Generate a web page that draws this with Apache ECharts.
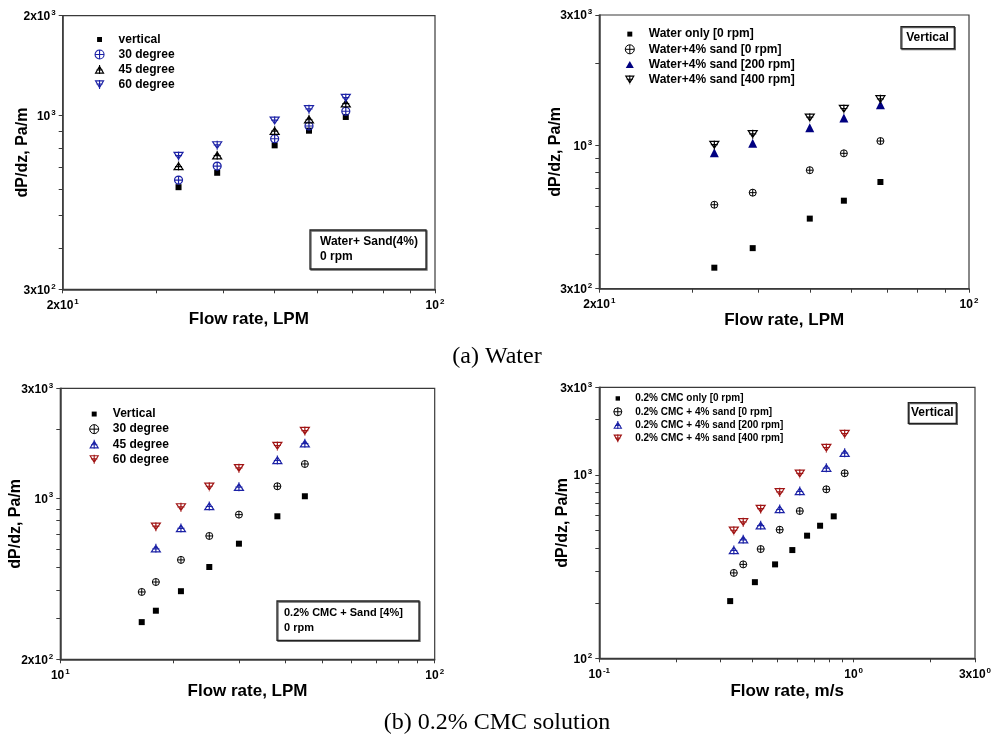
<!DOCTYPE html>
<html>
<head>
<meta charset="utf-8">
<script src="https://cdn.jsdelivr.net/npm/echarts@6/dist/echarts.min.js"></script>
<style>
html,body{margin:0;padding:0;background:#fff;}
#chart{width:994px;height:744px;}
</style>
</head>
<body>
<div id="chart"></div>
<script>
// ---------- Panel 1: Water + sand, inclination ----------
const p1X = [33, 39, 50, 58, 68];
const p1Vertical = [609, 673, 814, 901, 991];
const p1Deg30 = [640, 705, 852, 931, 1031];
const p1Deg45 = [705, 760, 901, 975, 1090];
const p1Deg60 = [756, 814, 966, 1045, 1130];
const p1XLabels = [20, 100];
const p1YLabels = [300, 1000, 2000];
const p1XTicks = [20, 30, 40, 50, 60, 70, 80, 90, 100];
const p1YTicks = [300, 400, 500, 600, 700, 800, 900, 1000, 2000];

// ---------- Panel 2: Water, vertical, rotation ----------
const p2X = [33, 39, 50, 58, 68];
const p2WaterOnly = [358, 422, 541, 629, 736];
const p2Sand0 = [608, 673, 813, 937, 1039];
const p2Sand200 = [942, 1019, 1163, 1261, 1410];
const p2Sand400 = [1005, 1100, 1265, 1361, 1476];
const p2XLabels = [20, 100];
const p2YLabels = [300, 1000, 3000];
const p2XTicks = [20, 30, 40, 50, 60, 70, 80, 90, 100];
const p2YTicks = [300, 400, 500, 600, 700, 800, 900, 1000, 2000, 3000];

// ---------- Panel 3: CMC + sand, inclination ----------
const p3X = [16.5, 18, 21, 25, 30, 38, 45];
const p3XInc = [18, 21, 25, 30, 38, 45];
const p3Vertical = [290, 325, 395, 503, 635, 835, 1020];
const p3Deg30 = [392, 433, 540, 686, 849, 1127, 1408];
const p3Deg45 = [606, 743, 925, 1122, 1465, 1732];
const p3Deg60 = [753, 913, 1122, 1349, 1686, 1958];
const p3XLabels = [10, 100];
const p3YLabels = [200, 1000, 3000];
const p3XTicks = [10, 20, 30, 40, 50, 60, 70, 80, 90, 100];
const p3YTicks = [200, 300, 400, 500, 600, 700, 800, 900, 1000, 2000, 3000];

// ---------- Panel 4: CMC, vertical, rotation ----------
const p4XOnly = [0.327, 0.409, 0.491, 0.574, 0.656, 0.738, 0.835];
const p4CmcOnly = [205, 260, 325, 389, 466, 528, 594];
const p4X = [0.338, 0.368, 0.431, 0.512, 0.614, 0.781, 0.922];
const p4Sand0 = [292, 325, 394, 502, 635, 834, 1020];
const p4Sand200 = [389, 445, 531, 651, 816, 1094, 1320];
const p4Sand400 = [496, 551, 651, 803, 1014, 1401, 1670];
const p4XLabels = [0.1, 1, 3];
const p4YLabels = [100, 1000, 3000];
const p4XTicks = [0.1, 0.2, 0.3, 0.4, 0.5, 0.6, 0.7, 0.8, 0.9, 1, 2, 3];
const p4YTicks = [100, 200, 300, 400, 500, 600, 700, 800, 900, 1000, 2000, 3000];

const names = {
  a1: 'vertical', a2: '30 degree', a3: '45 degree', a4: '60 degree',
  b1: 'Water only [0 rpm]', b2: 'Water+4% sand [0 rpm]', b3: 'Water+4% sand [200 rpm]', b4: 'Water+4% sand [400 rpm]',
  c1: 'Vertical', c2: '30 degree', c3: '45 degree', c4: '60 degree',
  d1: '0.2% CMC only [0 rpm]', d2: '0.2% CMC + 4% sand [0 rpm]', d3: '0.2% CMC + 4% sand [200 rpm]', d4: '0.2% CMC + 4% sand [400 rpm]'
};

const FONT = 'Liberation Sans, Arial, sans-serif';
const AX = '#3a3a3a';
const BLUE = '#1c22a6';
const NAVY = '#000080';
const RED = '#a01414';
const NONE = 'rgba(0,0,0,0)';

const CIRC = 'path://M10,0 A10,10 0 1 1 10,20 A10,10 0 1 1 10,0 Z M0,10 L20,10 M10,0 L10,20';
const UPT = 'path://M10,3 L19,18 L1,18 Z M10,0 L10,20 M3,11 L17,11';
const DNT = 'path://M1,2 L19,2 L10,17 Z M10,0 L10,20 M3,9 L17,9';
const SQ_ICON = 'path://M0,0 L0,0 M4.5,4.5 L15.5,4.5 L15.5,15.5 L4.5,15.5 Z M20,20 L20,20';
const TRI_ICON = 'path://M0,0 L0,0 M10,2 L19,18 L1,18 Z M20,20 L20,20';

function zip(xs, ys) { return xs.map((x, i) => [x, ys[i]]); }

function fmt(v) {
  const e = Math.floor(Math.log10(v) + 1e-9);
  const m = Math.round(v / Math.pow(10, e));
  return (m === 1 ? '{b|10}' : '{b|' + m + 'x10}') + '{s|' + e + '}';
}
const rich = {
  b: { fontSize: 12, fontWeight: 'bold', fontFamily: FONT, color: '#000', verticalAlign: 'bottom' },
  s: { fontSize: 8, fontWeight: 'bold', fontFamily: FONT, color: '#000', verticalAlign: 'bottom', padding: [0, 0, 6, 1] }
};

function xAxis(idx, min, max, labels, ticks, name, gap) {
  return {
    type: 'log', logBase: 10, gridIndex: idx, min: min, max: max,
    name: name, nameLocation: 'middle', nameGap: gap, nameMoveOverlap: false,
    nameTextStyle: { fontSize: 17, fontWeight: 'bold', fontFamily: FONT, color: '#000' },
    axisLine: { show: true, lineStyle: { color: AX, width: 1.5 } },
    axisTick: { show: true, inside: false, length: 4, customValues: ticks, lineStyle: { color: AX, width: 1 } },
    axisLabel: { show: true, margin: 8, customValues: labels, formatter: fmt, rich: rich, showMinLabel: true, showMaxLabel: true },
    splitLine: { show: false }, minorTick: { show: false }
  };
}
function yAxis(idx, min, max, labels, ticks, gap) {
  return {
    type: 'log', logBase: 10, gridIndex: idx, min: min, max: max,
    name: 'dP/dz, Pa/m', nameLocation: 'middle', nameGap: gap, nameRotate: 90, nameMoveOverlap: false,
    nameTextStyle: { fontSize: 16, fontWeight: 'bold', fontFamily: FONT, color: '#000' },
    axisLine: { show: true, lineStyle: { color: AX, width: 1.5 } },
    axisTick: { show: true, inside: false, length: 4, customValues: ticks, lineStyle: { color: AX, width: 1 } },
    axisLabel: { show: true, margin: 7, customValues: labels, formatter: fmt, rich: rich, showMinLabel: true, showMaxLabel: true },
    splitLine: { show: false }, minorTick: { show: false }
  };
}

function ser(id, idx, data, symbol, size, fill, stroke, bw) {
  return {
    name: id, type: 'scatter', xAxisIndex: idx, yAxisIndex: idx, data: data,
    symbol: symbol, symbolSize: size,
    itemStyle: { color: fill, borderColor: stroke, borderWidth: bw, opacity: 1 },
    emphasis: { disabled: true }, z: 3
  };
}

function li(name, icon, fill, stroke, bw) {
  return { name: name, icon: icon, itemStyle: { color: fill, borderColor: stroke, borderWidth: bw } };
}

function legend(items, left, top, w, fs, lh, pad) {
  return {
    data: items, orient: 'vertical', left: left, top: top, itemWidth: w, itemHeight: w,
    itemGap: 0, selectedMode: false, padding: 0,
    formatter: n => names[n],
    textStyle: { fontSize: fs, fontWeight: 'bold', fontFamily: FONT, color: '#000', lineHeight: lh, padding: [0, 0, 0, pad] }
  };
}

function box(x, y, w, h, text, fs, tx, ty, align) {
  return {
    type: 'group', children: [
      { type: 'rect', shape: { x: x, y: y, width: w, height: h },
        style: { fill: '#fff', stroke: '#222', lineWidth: 1.3, shadowColor: '#666', shadowOffsetX: 1, shadowOffsetY: 1, shadowBlur: 0 } },
      { type: 'text', x: tx, y: ty,
        style: { text: text, fontSize: fs, fontWeight: 'bold', fontFamily: FONT, fill: '#000', lineHeight: 15,
                 align: align, verticalAlign: 'middle' } }
    ]
  };
}

const gridStyle = { show: true, borderColor: AX, borderWidth: 1.2, backgroundColor: 'transparent', containLabel: false, outerBoundsMode: 'none' };

const option = {
  animation: false,
  backgroundColor: '#fff',
  grid: [
    Object.assign({ left: 62.7, top: 15.7, width: 372.3, height: 273.6 }, gridStyle),
    Object.assign({ left: 599.3, top: 15, width: 369.7, height: 273.7 }, gridStyle),
    Object.assign({ left: 60.3, top: 388.3, width: 374.4, height: 271 }, gridStyle),
    Object.assign({ left: 599.3, top: 387.3, width: 375.7, height: 271 }, gridStyle)
  ],
  xAxis: [
    xAxis(0, 20, 100, p1XLabels, p1XTicks, 'Flow rate, LPM', 22),
    xAxis(1, 20, 100, p2XLabels, p2XTicks, 'Flow rate, LPM', 23),
    xAxis(2, 10, 100, p3XLabels, p3XTicks, 'Flow rate, LPM', 24),
    xAxis(3, 0.1, 3, p4XLabels, p4XTicks, 'Flow rate, m/s', 25)
  ],
  yAxis: [
    yAxis(0, 300, 2000, p1YLabels, p1YTicks, 32),
    yAxis(1, 300, 3000, p2YLabels, p2YTicks, 36),
    yAxis(2, 200, 3000, p3YLabels, p3YTicks, 37),
    yAxis(3, 100, 3000, p4YLabels, p4YTicks, 29)
  ],
  legend: [
    legend([li('a1', SQ_ICON, '#000', '#000', 0), li('a2', CIRC, NONE, BLUE, 1.1), li('a3', UPT, NONE, '#000', 1.1), li('a4', DNT, NONE, BLUE, 1.1)],
           94.5, 32, 9, 12, 15, 9.5),
    legend([li('b1', SQ_ICON, '#000', '#000', 0), li('b2', CIRC, NONE, '#000', 1), li('b3', TRI_ICON, NAVY, NAVY, 0), li('b4', DNT, NONE, '#000', 1.1)],
           624.8, 26.5, 9, 12, 15.2, 9.5),
    legend([li('c1', SQ_ICON, '#000', '#000', 0), li('c2', CIRC, NONE, '#000', 1), li('c3', UPT, NONE, BLUE, 1.1), li('c4', DNT, NONE, RED, 1.1)],
           89.2, 406.5, 9, 12, 15.1, 9.1),
    legend([li('d1', SQ_ICON, '#000', '#000', 0), li('d2', CIRC, NONE, '#000', 1), li('d3', UPT, NONE, BLUE, 1.1), li('d4', DNT, NONE, RED, 1.1)],
           613.3, 391.8, 8, 10, 13.3, 8.4)
  ],
  series: [
    ser('a1', 0, zip(p1X, p1Vertical), 'rect', 6, '#000', '#000', 0),
    ser('a2', 0, zip(p1X, p1Deg30), CIRC, 8, NONE, BLUE, 1.2),
    ser('a3', 0, zip(p1X, p1Deg45), UPT, 9, NONE, '#000', 1.2),
    ser('a4', 0, zip(p1X, p1Deg60), DNT, 9, NONE, BLUE, 1.2),

    ser('b1', 1, zip(p2X, p2WaterOnly), 'rect', 6, '#000', '#000', 0),
    ser('b2', 1, zip(p2X, p2Sand0), CIRC, 7, NONE, '#000', 1),
    ser('b3', 1, zip(p2X, p2Sand200), 'triangle', 9, NAVY, NAVY, 0),
    ser('b4', 1, zip(p2X, p2Sand400), DNT, 9, NONE, '#000', 1.2),

    ser('c1', 2, zip(p3X, p3Vertical), 'rect', 6, '#000', '#000', 0),
    ser('c2', 2, zip(p3X, p3Deg30), CIRC, 7, NONE, '#000', 1),
    ser('c3', 2, zip(p3XInc, p3Deg45), UPT, 9, NONE, BLUE, 1.2),
    ser('c4', 2, zip(p3XInc, p3Deg60), DNT, 9, NONE, RED, 1.2),

    ser('d1', 3, zip(p4XOnly, p4CmcOnly), 'rect', 6, '#000', '#000', 0),
    ser('d2', 3, zip(p4X, p4Sand0), CIRC, 7, NONE, '#000', 1),
    ser('d3', 3, zip(p4X, p4Sand200), UPT, 9, NONE, BLUE, 1.2),
    ser('d4', 3, zip(p4X, p4Sand400), DNT, 9, NONE, RED, 1.2)
  ],
  graphic: [
    box(310, 230, 116, 39, 'Water+ Sand(4%)\n0 rpm', 12, 320, 249.2, 'left'),
    box(901, 26.7, 53.3, 22, 'Vertical', 12, 927.6, 37.7, 'center'),
    box(277, 601, 142, 39.3, '0.2% CMC + Sand [4%]\n0 rpm', 11, 284, 620.8, 'left'),
    box(908.3, 402.7, 48, 20.6, 'Vertical', 12, 932.3, 413, 'center'),
    { type: 'text', x: 497, y: 356.7, style: { text: '(a) Water', fontSize: 24, fontFamily: 'Liberation Serif, Times New Roman, serif', fill: '#000', align: 'center', verticalAlign: 'middle' } },
    { type: 'text', x: 497, y: 723, style: { text: '(b) 0.2% CMC solution', fontSize: 24, fontFamily: 'Liberation Serif, Times New Roman, serif', fill: '#000', align: 'center', verticalAlign: 'middle' } }
  ]
};

const chart = echarts.init(document.getElementById('chart'), null, { renderer: 'canvas' });
chart.setOption(option);
</script>
</body>
</html>
